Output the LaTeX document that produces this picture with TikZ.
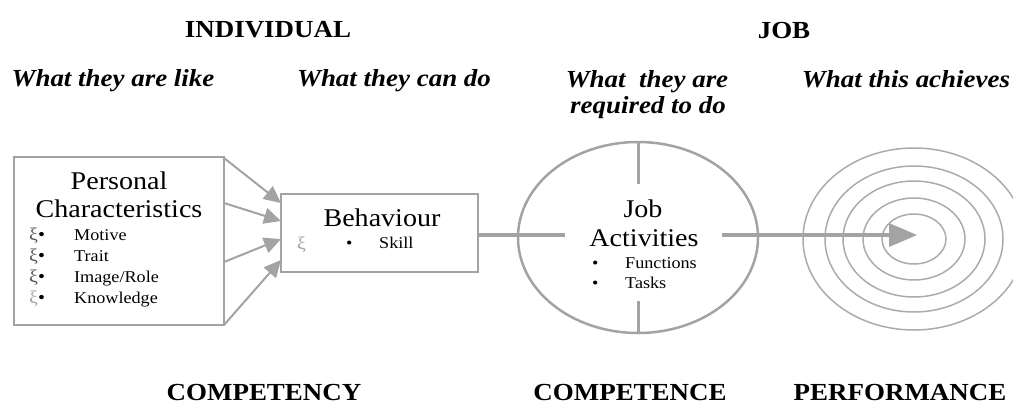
\documentclass[tikz,border=0pt]{standalone}
\usepackage{fontspec}
\setmainfont{Liberation Serif}[FakeStretch=1.1]
\usetikzlibrary{arrows.meta,shapes.geometric}
\definecolor{lg}{HTML}{A3A3A3}
\definecolor{rg}{HTML}{ABABAB}
\definecolor{glyph}{HTML}{555555}
\begin{document}
\begin{tikzpicture}[x=1pt,y=-1pt,
  head/.style={font=\fontsize{24.5}{28}\bfseries\selectfont,anchor=base,inner sep=0},
  sub/.style={font=\fontsize{24.5}{28}\bfseries\itshape\selectfont,anchor=base,inner sep=0},
  title/.style={font=\fontsize{25.5}{30}\selectfont,anchor=base,inner sep=0},
  item/.style={font=\fontsize{16.5}{20}\selectfont,anchor=base west,inner sep=0},
  gl/.style={font=\fontsize{18}{20}\selectfont,anchor=base west,inner sep=0,text=glyph},
  box/.style={draw=lg,line width=1.5pt,inner sep=0},
  feed/.style={draw=lg,line width=2pt,-{Triangle[length=17pt,width=16pt]},fill=lg},
  thickline/.style={draw=lg,line width=4pt},
  ring/.style={draw=rg,line width=1.5pt,ellipse,inner sep=0}]
\useasboundingbox (0,0) rectangle (1013,408);
\clip (0,0) rectangle (1013,408);
% headings
\node[head] (ind) at (268,37) {INDIVIDUAL};
\node[head] (job) at (784,38) {JOB};
\node[sub] (s1) at (113,86) {What they are like};
\node[sub] (s2) at (394,86) {What they can do};
\node[sub] (s3) at (647,87) {What\ \ they are};
\node[sub] (s3b) at (648,113) {required to do};
\node[sub] (s4) at (906,87) {What this achieves};
\node[head] (c1) at (264,400) {COMPETENCY};
\node[head] (c2) at (630,400) {COMPETENCE};
\node[head] (c3) at (900,400) {PERFORMANCE};
% personal characteristics box
\node[box,minimum width=210,minimum height=168] (pc) at (119,241) {};
\node[title] (pct1) at (119,189) {Personal};
\node[title] (pct2) at (119,217) {Characteristics};
\foreach \t/\y/\c [count=\i] in {Motive/240/glyph,Trait/261/glyph,Image\slash Role/282/glyph,Knowledge/303/lg}{
  \node[gl,text=\c] (g\i) at (29,\y) {ξ\textcolor{black}{•}};
  \node[item] (it\i) at (74,\y) {\t};
}
% behaviour box
\node[box,minimum width=197,minimum height=78] (beh) at (379.5,233) {};
\node[title] (beht) at (382,226) {Behaviour};
\node[gl,text=lg] (bg) at (297,249) {ξ};
\node[item] (bb) at (346,248) {•};
\node[item] (bs) at (379,248) {Skill};
% arrows into behaviour
\coordinate (a1) at (224,158);
\coordinate (a2) at (224,203);
\coordinate (a3) at (224,262);
\coordinate (a4) at (224,325);
\coordinate (t1) at (281,203);
\coordinate (t2) at (281,221);
\coordinate (t3) at (281,239);
\coordinate (t4) at (281,260);
\draw[feed] (a1) -- (t1);
\draw[feed] (a2) -- (t2);
\draw[feed] (a3) -- (t3);
\draw[feed] (a4) -- (t4);
% job activities ellipse
\node[draw=lg,line width=2.5pt,ellipse,inner sep=0,minimum width=240,minimum height=191] (ja) at (638,237.5) {};
\draw[draw=lg,line width=3pt] (ja.north) -- ++(0,43);
\draw[draw=lg,line width=3pt] (ja.south) -- ++(0,-33);
\draw[thickline] (beh.east |- 0,235) -- (565,235);
\node[title] (jat1) at (643,217) {Job};
\node[title] (jat2) at (644,246) {Activities};
\node[item] (jb1) at (592,268) {•};
\node[item] (jf) at (625,268) {Functions};
\node[item] (jb2) at (592,288) {•};
\node[item] (jt) at (625,288) {Tasks};
% target
\node[ring,minimum width=222,minimum height=182] (r1) at (914,239) {};
\node[ring,minimum width=178,minimum height=146] (r2) at (914,239) {};
\node[ring,minimum width=142,minimum height=116] (r3) at (914,239) {};
\node[ring,minimum width=102,minimum height=82] (r4) at (914,239) {};
\node[ring,minimum width=64,minimum height=50] (r5) at (914,239) {};
\coordinate (tip) at (917,235);
\draw[draw=lg,line width=4pt] (722,235) -- (890,235);
\fill[lg] (889,223) -- (tip) -- (889,247) -- cycle;
\end{tikzpicture}
\end{document}
